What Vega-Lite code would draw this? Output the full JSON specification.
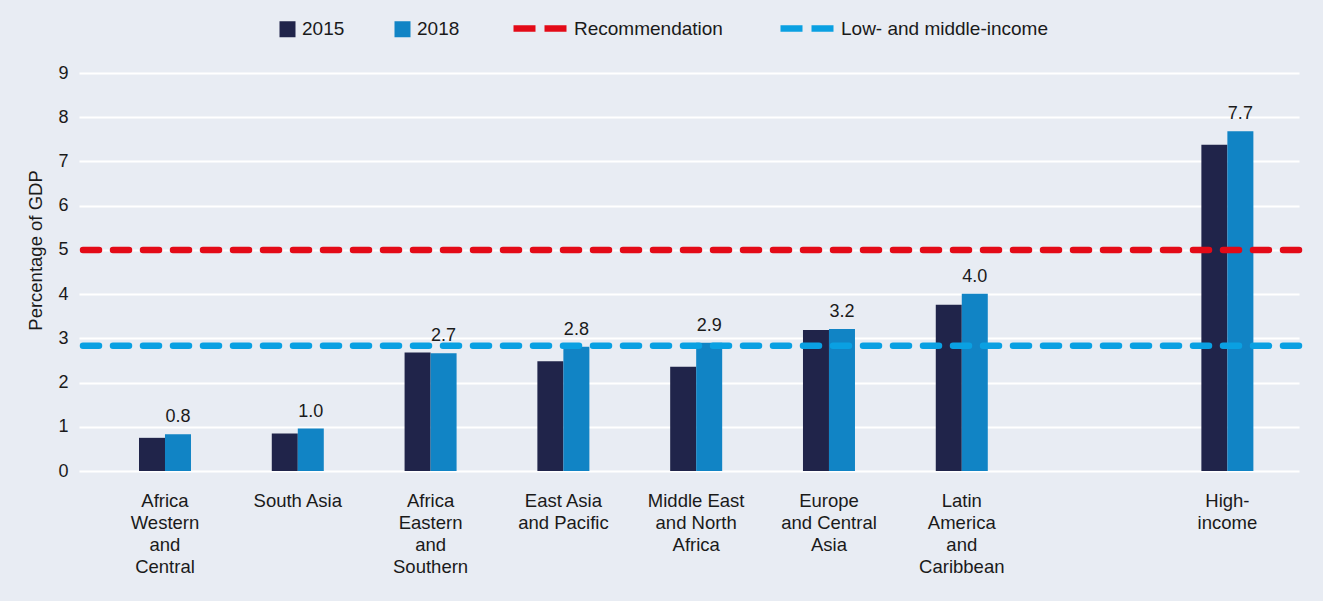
{
  "$schema": "https://vega.github.io/schema/vega-lite/v6.json",
  "width": 1220,
  "height": 398,
  "autosize": {"type": "none"},
  "padding": {"left": 79, "top": 73, "right": 24, "bottom": 130},
  "background": "#e8ecf3",
  "config": {
    "view": {"stroke": null},
    "font": "Liberation Sans",
    "text": {"font": "Liberation Sans"}
  },
  "data": {
    "values": [
      {"region": "Africa Western and Central", "year": "2015", "value": 0.75},
      {"region": "Africa Western and Central", "year": "2018", "value": 0.83},
      {"region": "South Asia", "year": "2015", "value": 0.85},
      {"region": "South Asia", "year": "2018", "value": 0.96},
      {"region": "Africa Eastern and Southern", "year": "2015", "value": 2.68},
      {"region": "Africa Eastern and Southern", "year": "2018", "value": 2.66},
      {"region": "East Asia and Pacific", "year": "2015", "value": 2.48},
      {"region": "East Asia and Pacific", "year": "2018", "value": 2.81},
      {"region": "Middle East and North Africa", "year": "2015", "value": 2.36},
      {"region": "Middle East and North Africa", "year": "2018", "value": 2.9},
      {"region": "Europe and Central Asia", "year": "2015", "value": 3.19},
      {"region": "Europe and Central Asia", "year": "2018", "value": 3.21},
      {"region": "Latin America and Caribbean", "year": "2015", "value": 3.76},
      {"region": "Latin America and Caribbean", "year": "2018", "value": 4.01},
      {"region": "High-income", "year": "2015", "value": 7.38},
      {"region": "High-income", "year": "2018", "value": 7.68}
    ]
  },
  "layer": [
    {
      "mark": {"type": "bar"},
      "encoding": {
        "x": {
          "field": "region",
          "type": "nominal",
          "sort": null,
          "scale": {
            "domain": ["Africa Western and Central", "South Asia", "Africa Eastern and Southern", "East Asia and Pacific", "Middle East and North Africa", "Europe and Central Asia", "Latin America and Caribbean", "_gap", "High-income"],
            "paddingInner": 0.6084,
            "paddingOuter": 0.3976,
            "align": 0.568,
            "round": false
          },
          "axis": {
            "title": null,
            "domain": false,
            "ticks": false,
            "labelAngle": 0,
            "labelFontSize": 18.5,
            "labelColor": "#1a1a1a",
            "labelLineHeight": 22,
            "labelPadding": 20,
            "labelBaseline": "top",
            "labelLimit": 0,
            "labelOverlap": false,
            "labelExpr": "datum.value == 'Africa Western and Central' ? ['Africa', 'Western', 'and', 'Central'] : datum.value == 'South Asia' ? 'South Asia' : datum.value == 'Africa Eastern and Southern' ? ['Africa', 'Eastern', 'and', 'Southern'] : datum.value == 'East Asia and Pacific' ? ['East Asia', 'and Pacific'] : datum.value == 'Middle East and North Africa' ? ['Middle East', 'and North', 'Africa'] : datum.value == 'Europe and Central Asia' ? ['Europe', 'and Central', 'Asia'] : datum.value == 'Latin America and Caribbean' ? ['Latin', 'America', 'and', 'Caribbean'] : datum.value == 'High-income' ? ['High-', 'income'] : ''"
          }
        },
        "xOffset": {"field": "year", "type": "nominal", "scale": {"paddingInner": 0, "paddingOuter": 0}},
        "y": {
          "field": "value",
          "type": "quantitative",
          "scale": {"domain": [0, 9], "nice": false},
          "axis": {
            "values": [0, 1, 2, 3, 4, 5, 6, 7, 8, 9],
            "title": "Percentage of GDP",
            "titleFontSize": 18.5,
            "titleFontWeight": "normal",
            "titleColor": "#1a1a1a",
            "titleAngle": -90,
            "titleX": -44,
            "titleY": 177,
            "titleAlign": "center",
            "titleBaseline": "middle",
            "domain": false,
            "ticks": false,
            "grid": true,
            "gridColor": "#ffffff",
            "gridWidth": 2,
            "labelFontSize": 18,
            "labelColor": "#1a1a1a",
            "labelPadding": 11
          }
        },
        "fill": {
          "field": "year",
          "type": "nominal",
          "scale": {"domain": ["2015", "2018"], "range": ["#20244a", "#1184c5"]},
          "legend": {
            "orient": "none",
            "legendX": 199,
            "legendY": -53.5,
            "direction": "horizontal",
            "title": null,
            "padding": 0,
            "symbolType": "square",
            "symbolSize": 256,
            "symbolStrokeWidth": 0,
            "labelFontSize": 19,
            "labelColor": "#1a1a1a",
            "labelOffset": 5,
            "labelLimit": 0,
            "columnPadding": 48
          }
        }
      }
    },
    {
      "transform": [{"filter": "datum.year == '2018'"}],
      "mark": {"type": "text", "baseline": "alphabetic", "dy": -12, "fontSize": 18, "color": "#1a1a1a"},
      "encoding": {
        "x": {"field": "region", "type": "nominal", "sort": null},
        "xOffset": {"field": "year", "type": "nominal"},
        "y": {"field": "value", "type": "quantitative"},
        "text": {"field": "value", "type": "quantitative", "format": ".1f"}
      }
    },
    {
      "data": {
        "values": [
          {"line": "Recommendation", "value": 5.0},
          {"line": "Low- and middle-income", "value": 2.83}
        ]
      },
      "mark": {"type": "rule", "strokeWidth": 6.5, "strokeDash": [16, 14], "strokeCap": "round"},
      "encoding": {
        "y": {"field": "value", "type": "quantitative"},
        "stroke": {
          "field": "line",
          "type": "nominal",
          "scale": {"domain": ["Recommendation", "Low- and middle-income"], "range": ["#e30a17", "#0aa0e2"]},
          "legend": {
            "orient": "none",
            "legendX": 431,
            "legendY": -74.5,
            "direction": "horizontal",
            "title": null,
            "padding": 0,
            "symbolType": "stroke",
            "symbolSize": 2809,
            "symbolStrokeWidth": 6.5,
            "symbolDash": [22, 9],
            "labelFontSize": 19,
            "labelColor": "#1a1a1a",
            "labelOffset": 4,
            "labelLimit": 0,
            "columnPadding": 44
          }
        }
      }
    }
  ]
}
